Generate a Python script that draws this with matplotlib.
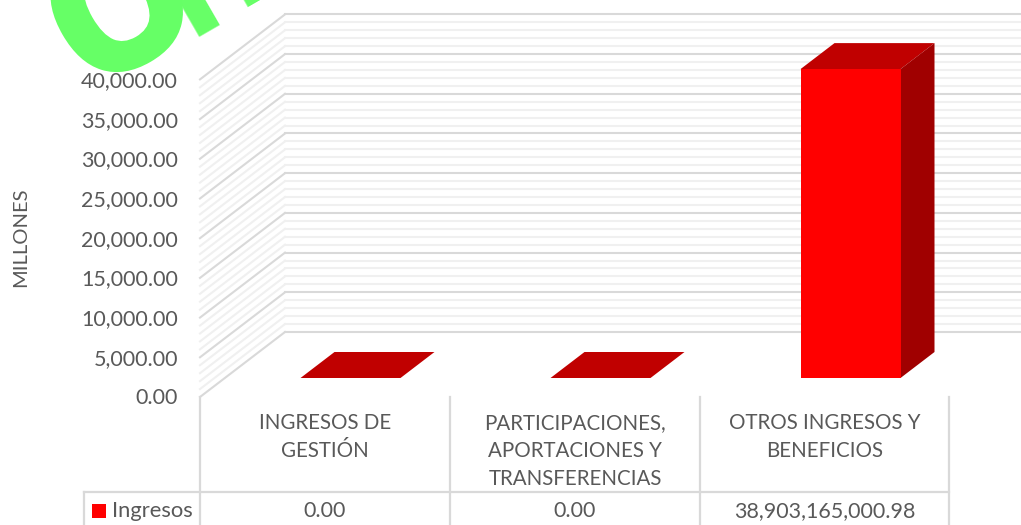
import matplotlib
matplotlib.use("Agg")
import matplotlib.pyplot as plt
import matplotlib.patheffects as pe
from matplotlib.patches import Polygon, Rectangle

categories = ["INGRESOS DE\nGESTIÓN", "PARTICIPACIONES,\nAPORTACIONES Y\nTRANSFERENCIAS", "OTROS INGRESOS Y\nBENEFICIOS"]
row_labels = ["0.00", "0.00", "38,903,165,000.98"]
ingresos = [0.0, 0.0, 38903.165]  # millones
y_ticks = [0, 5000, 10000, 15000, 20000, 25000, 30000, 35000, 40000]
minor_step = 1000

plt.rcParams['font.family'] = ['Lato', 'DejaVu Sans']
TXT = '#595959'
GRID = '#d9d9d9'
MINOR = '#f0f0f0'

fig = plt.figure(figsize=(10.21, 5.25), dpi=100)
ax = fig.add_axes([0, 0, 1, 1])
ax.set_xlim(0, 1021)
ax.set_ylim(525, 0)
ax.axis('off')

# falsa proyeccion 3D del grafico
x0, x_cat, y0 = 200, 250, 397
px_per_val = 39.7 / 5000
wall_dx, wall_dy = 85, -65
bar_w = 100
bar_dx, bar_dy = 34, -26
bar_off = 25.5, -19


def vy(v):
    return y0 - v * px_per_val


right = x0 + x_cat * len(categories)

# lineas de la pared: primero las menores
for v in range(0, y_ticks[-1] + 1, minor_step):
    is_major = v % 5000 == 0
    c = GRID if is_major else MINOR
    z = 2 if is_major else 1
    y = vy(v)
    ax.plot([x0 + wall_dx, 1021], [y + wall_dy, y + wall_dy], color=c, lw=1.5, zorder=z)
    ax.plot([x0, x0 + wall_dx], [y, y + wall_dy], color=c, lw=1.5, zorder=z)

# barras
for i, val in enumerate(ingresos):
    xl = x0 + x_cat * i + (x_cat - bar_w) / 2 + bar_off[0]
    xr = xl + bar_w
    yb = y0 + bar_off[1]
    yt = yb - val * px_per_val
    ax.add_patch(Polygon([(xl, yt), (xr, yt), (xr + bar_dx, yt + bar_dy), (xl + bar_dx, yt + bar_dy)],
                         closed=True, fc='#c00000', ec='none', zorder=5))
    if val > 0:
        ax.add_patch(Rectangle((xl, yt), bar_w, yb - yt, fc='#ff0000', ec='none', zorder=6))
        ax.add_patch(Polygon([(xr, yt), (xr + bar_dx, yt + bar_dy), (xr + bar_dx, yb + bar_dy), (xr, yb)],
                             closed=True, fc='#a00000', ec='none', zorder=5))

# etiquetas eje y
for v in y_ticks:
    ax.text(178, vy(v) + 1.5, f"{v:,.2f}", ha='right', va='center', fontsize=15.5, color=TXT, zorder=12)
ax.text(21, 237, "MILLONES", rotation=90, ha='center', va='center', fontsize=14.5, color=TXT)

# tabla de datos
table_top, table_row = y0, 492
for i in range(len(categories) + 1):
    ax.plot([x0 + x_cat * i - (1 if i == 3 else 0)] * 2, [table_top, 525], color=GRID, lw=1.6, zorder=3)
ax.plot([84, right - 1], [table_row, table_row], color=GRID, lw=1.6, zorder=3)
ax.plot([84, 84], [table_row, 525], color=GRID, lw=1.6, zorder=3)
for i, cat in enumerate(categories):
    cx = x0 + x_cat * (i + 0.5)
    ax.text(cx, 413, cat, ha='center', va='top', fontsize=14.8, color=TXT, linespacing=1.5)
    ax.text(cx, 511, row_labels[i], ha='center', va='center', fontsize=15.5, color=TXT)
ax.add_patch(Rectangle((92, 504), 14, 14, fc='#ff0000', ec='none'))
ax.text(112, 511, "Ingresos", ha='left', va='center', fontsize=15.8, color=TXT)

# marca de agua verde, cortada por el borde superior
wm = dict(rotation=30, rotation_mode='anchor', ha='left', va='baseline', fontweight='bold',
          color='#66ff66', family=['Open Sans', 'DejaVu Sans'], zorder=10)
ax.text(88, 92, "O", fontsize=125, path_effects=[pe.withStroke(linewidth=5, foreground='#66ff66')], **wm)
ax.text(184, 43, "fi", fontsize=115, **wm)

fig.savefig("out.png", dpi=100)
